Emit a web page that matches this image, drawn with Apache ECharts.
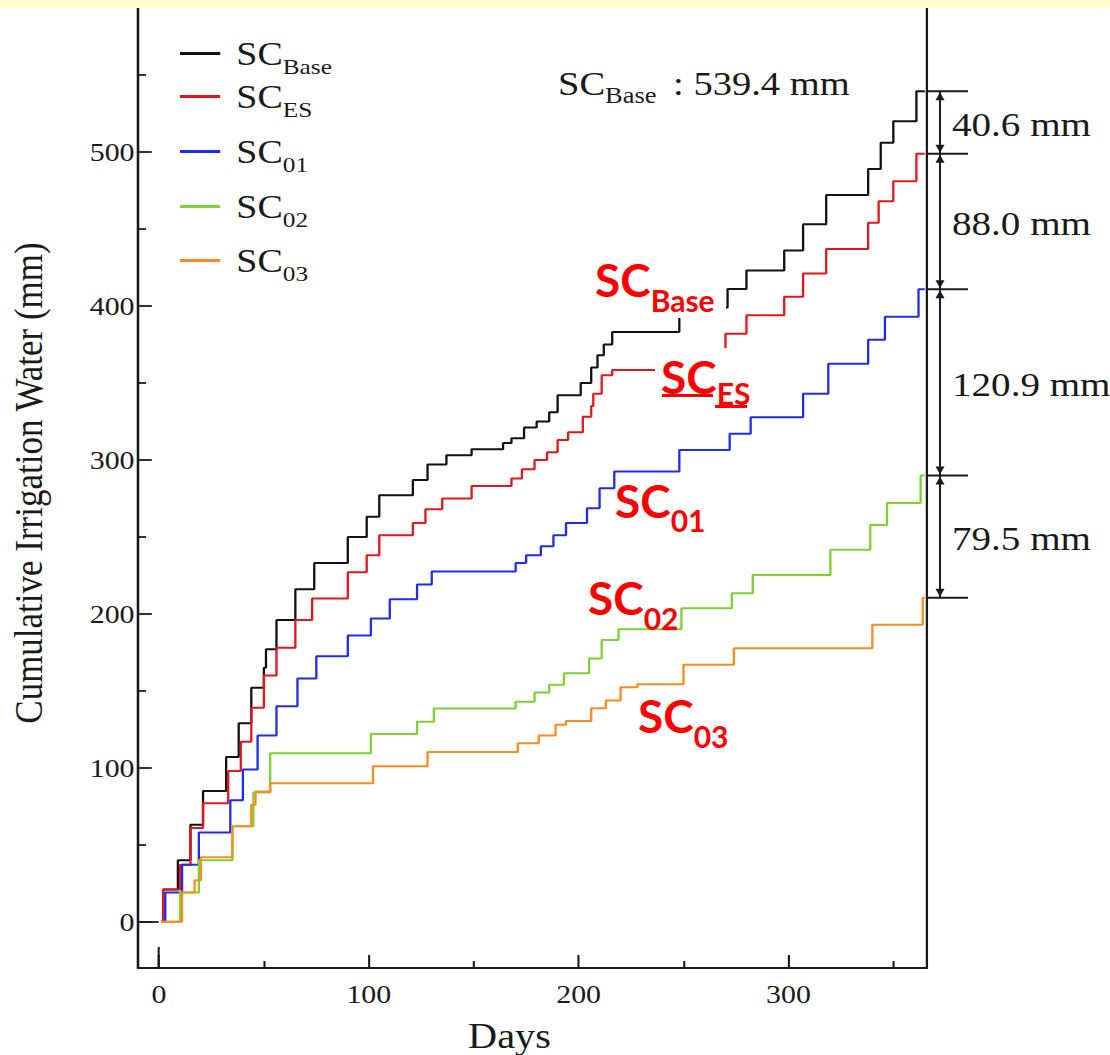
<!DOCTYPE html>
<html>
<head>
<meta charset="utf-8">
<script src="https://cdn.jsdelivr.net/npm/echarts@6/dist/echarts.min.js"></script>
<style>
html,body{margin:0;padding:0;background:#ffffff;overflow:hidden;}
#wrap{position:absolute;left:0;top:0;width:1110px;height:1055px;overflow:hidden;background:#ffffff;}
#chart{width:965px;height:1055px;transform:scaleX(1.15);transform-origin:0 0;}
</style>
</head>
<body>
<div id="wrap"><div id="chart"></div></div>
<script>
// ---------------- data ----------------
const seriesNames = ['SC_Base', 'SC_ES', 'SC_01', 'SC_02', 'SC_03'];
const seriesSubs  = ['Base', 'ES', '01', '02', '03'];

// [day, cumulative irrigation water (mm)] at each irrigation event (step after)
const scBase = [[1,0],[2,21],[9,40],[15,63],[21,85],[32,107],[38,129],[44,152],[50,165],[51,177],[56,196],[65,216],[74,233],[90,250],[99,263],[105,277],[121,287],[128,297],[137,303],[149,307],[164,311],[168,314],[174,321],[180,325],[186,331],[190,342],[201,350],[206,360],[209,368],[212,375],[216,383],[248,395],[260,399],[271,411],[280,423],[298,436],[307,453],[318,472],[338,489],[344,506],[350,520],[361,539.4],[365,539.4]];
const scES   = [[1,0],[2,21],[10,37],[15,61],[21,77],[33,98],[39,117],[44,139],[50,160],[56,178],[65,196],[73,210],[90,227],[99,238],[105,251],[121,259],[127,268],[135,275],[149,283],[168,288],[173,294],[179,300],[185,305],[190,313],[195,318],[202,328],[206,335],[207,343],[211,355],[216,358.4],[257,370],[270,382],[280,394],[298,406],[307,421],[318,437],[338,454],[343,468],[350,481],[361,498.8],[365,498.8]];
const sc01   = [[1,0],[3,19],[11,37],[19,58],[34,79],[40,99],[47,121],[56,140],[66,158],[75,172.5],[90,186],[101,197],[110,209.5],[123,219],[130,227.5],[170,233],[175,238],[182,244],[188,251],[194,259],[204,268.6],[210,281.6],[217,292.4],[248,306.5],[272,317],[282,327.7],[307,343],[319,362.5],[338,378],[346,393],[362,410.8],[365,410.8]];
const sc02   = [[1,0],[10,19],[19,40],[35,62],[45,84],[53,109.5],[101,122],[123,130],[131,138.5],[170,143],[179,149],[186,154],[193,161.5],[205,171],[211,183],[219,190],[249,203.7],[273,213.4],[283,225.3],[320,241.6],[339,257.8],[347,272],[363,289.9],[365,289.9]];
const sc03   = [[1,0],[11,19],[17,27],[20,42],[35,62],[44,76],[46,84.6],[53,90],[102,101],[128,110.3],[171,116],[181,121],[189,128],[194,130.5],[206,138.7],[213,143.7],[220,152.4],[228,154.3],[250,167],[274,177.7],[340,193],[364,210.4],[365,210.4]];
const seriesData = [scBase, scES, sc01, sc02, sc03];

const xMajorTicks = [0, 100, 200, 300];
const xMinorTicks = [50, 150, 250, 350];
const yMajorTicks = [0, 100, 200, 300, 400, 500];
const yMinorTicks = [50, 150, 250, 350, 450, 550];

const finalTotals = [539.4, 498.8, 410.8, 289.9, 210.4];
const gapLabels   = ['40.6 mm', '88.0 mm', '120.9 mm', '79.5 mm'];
const totalText   = ' : 539.4 mm';

// ---------------- style / layout ----------------
const S = 1.15;                 // horizontal stretch of the reference figure
const W = 965;                  // unstretched canvas width
const colors = ['#111111', '#e3161b', '#1f2bf0', '#7ed132', '#ff8a1e'];
const serif = 'Liberation Serif';
const ink = '#1a1a1a';
const red = '#ff0000';

const chart = echarts.init(document.getElementById('chart'), null, {renderer: 'svg'});

const legendRich = {
  m: {fontFamily: serif, fontSize: 33, lineHeight: 48, color: ink, verticalAlign: 'middle'},
  s: {fontFamily: serif, fontSize: 22, lineHeight: 22, color: ink, verticalAlign: 'bottom'}
};
const legendFmt = name => '{m|SC}{s|' + seriesSubs[seriesNames.indexOf(name)] + '}';
const legendTops = [37, 80, 135, 190, 244];
const legends = seriesNames.map((n, i) => ({
  data: [n], orient: 'vertical', left: 156.5, top: legendTops[i], padding: 0,
  itemWidth: 35, itemHeight: 3, icon: 'rect', selectedMode: false,
  formatter: legendFmt, textStyle: {padding: [0, 0, 0, 9], rich: legendRich}
}));

const axisLineStyle = {color: ink, width: 2};
const tickStyle = {color: ink, width: 1.8};
const labelStyle = {fontFamily: serif, fontSize: 26, color: ink};

function xTickAxis(values, len) {
  return {
    type: 'value', gridIndex: 0, position: 'bottom', min: -10, max: 366,
    axisLine: {show: false, onZero: false},
    axisTick: {show: true, inside: true, length: len, customValues: values, lineStyle: tickStyle},
    axisLabel: {show: false}, splitLine: {show: false}
  };
}
function yTickAxis(values, len) {
  return {
    type: 'value', gridIndex: 0, position: 'left', min: -30, max: 600,
    axisLine: {show: false, onZero: false},
    axisTick: {show: true, inside: true, length: len, customValues: values, lineStyle: tickStyle},
    axisLabel: {show: false}, splitLine: {show: false}
  };
}

const option = {
  animation: false,
  backgroundColor: '#ffffff',
  grid: {
    left: 120, right: 159, top: -2, bottom: 87,
    show: true, borderColor: ink, borderWidth: 2, backgroundColor: 'transparent',
    containLabel: false, outerBoundsMode: 'none'
  },
  legend: legends,
  xAxis: [
    {
      type: 'value', gridIndex: 0, position: 'bottom', min: -10, max: 366,
      axisLine: {show: true, onZero: false, lineStyle: axisLineStyle},
      axisTick: {show: true, inside: true, length: 13, customValues: xMajorTicks, lineStyle: tickStyle},
      axisLabel: Object.assign({customValues: xMajorTicks, margin: 13}, labelStyle),
      splitLine: {show: false},
      name: 'Days', nameLocation: 'middle', nameGap: 50,
      nameTextStyle: {fontFamily: serif, fontSize: 35, color: ink, padding: [0, 40, 0, 0]}
    },
    xTickAxis(xMinorTicks, 7),
    xTickAxis([0], 21)
  ],
  yAxis: [
    {
      type: 'value', gridIndex: 0, position: 'left', min: -30, max: 600,
      axisLine: {show: true, onZero: false, lineStyle: axisLineStyle},
      axisTick: {show: true, inside: true, length: 12, customValues: yMajorTicks, lineStyle: tickStyle},
      axisLabel: Object.assign({customValues: yMajorTicks, margin: 3}, labelStyle),
      splitLine: {show: false},
      name: 'Cumulative Irrigation Water (mm)', nameLocation: 'middle', nameRotate: 90, nameGap: 78,
      nameTextStyle: {fontFamily: serif, fontSize: 35, color: ink}
    },
    yTickAxis(yMinorTicks, 7),
    yTickAxis([0], 18)
  ],
  series: seriesData.map((d, i) => ({
    name: seriesNames[i], type: 'line', step: 'end', data: d,
    xAxisIndex: 0, yAxisIndex: 0,
    showSymbol: false, symbol: 'none', silent: true, z: 2 + i,
    lineStyle: {color: colors[i], width: 2},
    itemStyle: {color: colors[i]}
  }))
};
chart.setOption(option);

// ---------------- annotations ----------------
const yPx = v => chart.convertToPixel({yAxisIndex: 0}, v);
const X = xr => xr / S;   // reference-pixel x -> unstretched x
const els = [];

// yellow band at the top of the slide
els.push({type: 'rect', silent: true, z: 200, shape: {x: 0, y: 0, width: W, height: 8}, style: {fill: '#ffffcc'}});

// dimension lines with arrows on the right
const dimX0 = X(927), dimX1 = X(968), arrX = X(940), dimLabelX = X(952);
finalTotals.forEach(v => {
  const y = yPx(v);
  els.push({type: 'line', silent: true, z: 50, shape: {x1: dimX0, y1: y, x2: dimX1, y2: y}, style: {stroke: ink, lineWidth: 2}});
});
for (let i = 0; i < gapLabels.length; i++) {
  const y1 = yPx(finalTotals[i]), y2 = yPx(finalTotals[i + 1]);
  const hw = X(4.5);
  els.push({type: 'line', silent: true, z: 50, shape: {x1: arrX, y1: y1, x2: arrX, y2: y2}, style: {stroke: ink, lineWidth: 1.7}});
  els.push({type: 'polygon', silent: true, z: 51, shape: {points: [[arrX, y1 + 1], [arrX - hw, y1 + 9], [arrX + hw, y1 + 9]]}, style: {fill: ink}});
  els.push({type: 'polygon', silent: true, z: 51, shape: {points: [[arrX, y2 - 1], [arrX - hw, y2 - 9], [arrX + hw, y2 - 9]]}, style: {fill: ink}});
  els.push({type: 'text', silent: true, z: 52, x: dimLabelX, y: (y1 + y2) / 2 + 2,
    style: {text: gapLabels[i], fontFamily: serif, fontSize: 34, fill: ink, align: 'left', verticalAlign: 'middle'}});
}

// "SC_Base : 539.4 mm"
els.push({type: 'text', silent: true, z: 52, x: X(558), y: 84,
  style: {
    text: '{m|SC}{s|Base}{m|' + totalText + '}', align: 'left', verticalAlign: 'middle',
    rich: {
      m: {fontFamily: serif, fontSize: 33.5, lineHeight: 46, fill: ink, verticalAlign: 'middle'},
      s: {fontFamily: serif, fontSize: 23, lineHeight: 23, fill: ink, verticalAlign: 'bottom', padding: [0, 6, 0, 0]}
    }
  }});

// white boxes behind the red labels that cover the lines
const whiteBoxes = [[588, 726, 258, 318], [655, 760, 348, 412]];
whiteBoxes.forEach(b => {
  els.push({type: 'rect', silent: true, z: 60, shape: {x: X(b[0]), y: b[2], width: X(b[1] - b[0]), height: b[3] - b[2]}, style: {fill: '#ffffff'}});
});

// red series labels (PowerPoint-style, not stretched)
const redLabelLayout = [
  {x: 595, y: 280, d: 20}, {x: 661, y: 377, d: 16}, {x: 615, y: 501, d: 19},
  {x: 588, y: 598, d: 20}, {x: 638, y: 716, d: 20}
];
redLabelLayout.forEach((p, i) => {
  const L = 2 * (p.d + 15);
  els.push({type: 'text', silent: true, z: 70, x: X(p.x), y: p.y, scaleX: 1 / S,
    style: {
      text: '{m|SC}{s|' + seriesSubs[i] + '}', align: 'left', verticalAlign: 'middle',
      rich: {
        m: {fontFamily: 'Lato', fontWeight: 'bold', fontSize: 46, lineHeight: L, fill: red, verticalAlign: 'middle'},
        s: {fontFamily: 'Lato', fontWeight: 'bold', fontSize: 30, lineHeight: 30, fill: red, verticalAlign: 'bottom'}
      }
    }});
});
// underline of SC_ES
els.push({type: 'rect', silent: true, z: 71, shape: {x: X(662), y: 394, width: X(51), height: 3}, style: {fill: red}});
els.push({type: 'rect', silent: true, z: 71, shape: {x: X(715), y: 405, width: X(32), height: 3}, style: {fill: red}});

chart.setOption({graphic: {elements: els}});
</script>
</body>
</html>
